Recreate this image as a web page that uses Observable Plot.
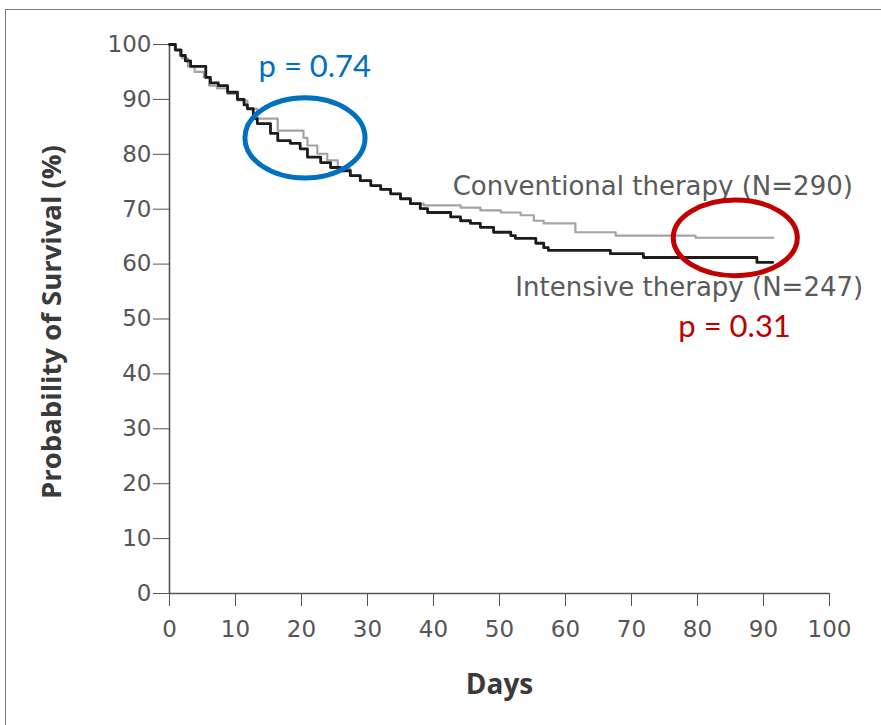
<!DOCTYPE html>
<html>
<head>
<meta charset="utf-8">
<script src="https://cdn.jsdelivr.net/npm/d3@7"></script>
<script src="https://cdn.jsdelivr.net/npm/@observablehq/plot@0.6"></script>
<style>
  body { margin: 0; background: #fff; }
  #chart { position: absolute; left: 0; top: 0; }
  #frame { position: absolute; left: 5px; top: 9px; width: 876px; height: 716px;
           border-top: 1.5px solid #7a7a7a; border-left: 1.5px solid #7a7a7a; pointer-events: none; }
</style>
</head>
<body>
<div id="chart"></div>
<div id="frame"></div>
<script>
// Kaplan–Meier survival estimates (days, % surviving)
const intensiveDays = [0, 0.9, 1.7, 2.4, 3.2, 5.5, 6.2, 7.4, 8.8, 10.3, 11.3, 11.8, 12.7, 13.3, 15.3, 16.4, 18.3, 19.8, 20.9, 22.9, 24.4, 25.9, 27.4, 28.9, 30.5, 32, 33.5, 35, 36.5, 38, 39.1, 42.6, 44.1, 45.6, 47.1, 49.1, 51.7, 52.4, 55.5, 56.7, 57.4, 66.8, 71.8, 89, 91.4];
const intensiveSurv = [100, 99, 98, 97, 96, 94, 93, 92.5, 91.3, 90, 89, 88.3, 86.5, 85.6, 83.8, 82.5, 82, 81, 79.5, 78.5, 77.6, 77, 76.1, 75.2, 74.3, 73.6, 72.8, 71.9, 71, 70.1, 69.4, 68.6, 67.9, 67.4, 66.7, 65.8, 65.2, 64.7, 63.8, 63, 62.5, 61.9, 61.2, 60.3, 60.3];

const conventionalDays = [0, 0.8, 1.9, 2.8, 3.8, 5.2, 6, 7.2, 8.8, 10.3, 11.8, 13.3, 16.4, 20.3, 20.9, 22.4, 23.9, 25.5, 27.4, 28.9, 30.5, 32, 33.5, 35, 36.5, 38.5, 44.1, 47.1, 50.2, 53.2, 55.2, 56.7, 61.5, 67.6, 79.7, 91.5];
const conventionalSurv = [100, 99, 97.5, 96, 95, 94, 92.5, 92, 91, 89.8, 88.3, 86.5, 84.3, 83, 81.6, 80.1, 78.9, 77.4, 76.1, 75.2, 74.3, 73.6, 72.8, 71.9, 71, 70.7, 70.3, 69.8, 69.4, 68.9, 67.9, 67.4, 65.8, 65.2, 64.8, 64.8];

const xTicks = [0, 10, 20, 30, 40, 50, 60, 70, 80, 90, 100];
const yTicks = [0, 10, 20, 30, 40, 50, 60, 70, 80, 90, 100];

// Group labels and p-value annotations (anchored in day / % coordinates)
const groupLabels = ["Conventional therapy (N=290)", "Intensive therapy (N=247)"];
const groupLabelDay = [42.9, 52.4];
const groupLabelPct = [74.1, 55.7];

const pLabels = ["p = 0.74", "p = 0.31"];
const pLabelDay = [13.5, 77.1];
const pLabelPct = [95.8, 48.5];
const pColors = ["#0070c0", "#c00000"];

// Highlight ellipses: center (day, %) and radii (days, %)
const ellipseDay = [20.6, 85.8];
const ellipsePct = [82.9, 64.7];
const ellipseRx = [9.1, 9.4];
const ellipseRy = [7.3, 6.9];

const intensive = intensiveDays.map((d, i) => ({day: d, surv: intensiveSurv[i]}));
const conventional = conventionalDays.map((d, i) => ({day: d, surv: conventionalSurv[i]}));
const groups = groupLabels.map((t, i) => ({text: t, day: groupLabelDay[i], pct: groupLabelPct[i]}));
const pvals = pLabels.map((t, i) => ({text: t, day: pLabelDay[i], pct: pLabelPct[i], color: pColors[i]}));

const plot = Plot.plot({
  width: 881,
  height: 725,
  marginLeft: 169,
  marginRight: 52,
  marginTop: 44,
  marginBottom: 132,
  style: {background: "transparent", fontFamily: "DejaVu Sans", fontSize: "23px", color: "#555"},
  x: {domain: [0, 100], ticks: xTicks, tickSize: 13, tickPadding: 14, label: null},
  y: {domain: [0, 100], ticks: yTicks, tickSize: 16, tickPadding: 2, label: null},
  marks: [
    Plot.ruleX([0], {y1: 0, y2: 100, stroke: "#555", strokeWidth: 1.6}),
    Plot.ruleY([0], {x1: 0, x2: 100, stroke: "#555", strokeWidth: 1.6}),
    Plot.line(conventional, {x: "day", y: "surv", curve: "step-after", stroke: "#a3a3a3", strokeWidth: 2.2}),
    Plot.line(intensive, {x: "day", y: "surv", curve: "step-after", stroke: "#1c1c1c", strokeWidth: 2.8}),
    Plot.text(groups, {x: "day", y: "pct", text: "text", textAnchor: "start", fill: "#5a5a5a", fontSize: 26, fontFamily: "DejaVu Sans"}),
    Plot.text(pvals, {x: "day", y: "pct", text: "text", textAnchor: "start", fill: "color", fontSize: 31, fontFamily: "Lato"}),
    Plot.text(["Probability of Survival (%)"], {frameAnchor: "left", textAnchor: "middle", dx: -117, dy: 3, rotate: -90, fontWeight: "bold", fill: "#3a3a3a", fontSize: 27.5, fontFamily: "Open Sans"}),
    Plot.text(["Days"], {frameAnchor: "bottom", dy: 100, fontWeight: "bold", fill: "#3a3a3a", fontSize: 28, fontFamily: "Open Sans"})
  ]
});

// Outline ellipses drawn through the plot's own scales
const xs = plot.scale("x"), ys = plot.scale("y");
const svg = d3.select(plot);
ellipseDay.forEach((d, i) => {
  const cx = xs.apply(d), cy = ys.apply(ellipsePct[i]);
  const rx = xs.apply(d + ellipseRx[i]) - cx;
  const ry = cy - ys.apply(ellipsePct[i] + ellipseRy[i]);
  svg.append("ellipse")
    .attr("cx", cx).attr("cy", cy).attr("rx", rx).attr("ry", ry)
    .attr("fill", "none").attr("stroke", pColors[i]).attr("stroke-width", 5);
});

document.getElementById("chart").append(plot);
</script>
</body>
</html>
